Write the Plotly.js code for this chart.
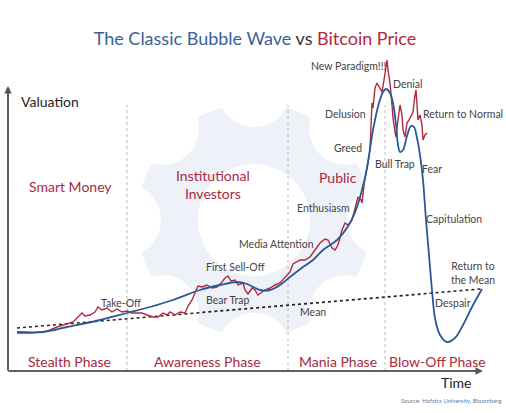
<!DOCTYPE html>
<html>
<head>
<meta charset="utf-8">
<script src="https://cdn.plot.ly/plotly-3.0.1.min.js"></script>
<style>html,body{margin:0;padding:0;background:#fff;}#chart{width:506px;height:413px;}</style>
</head>
<body>
<div id="chart"></div>
<script>
// ---- Data (time units / valuation units) ----
const bubbleTime = [9,35,59,92,119,142,165,192,212,229,239,252,262,272,282,295,305,315,329,342,349,354,359,365,371,375,378,382,385,388,390,392,395,399,403,406,409,412,415,418,421,424,427,432,439,447,455,464,474];
const bubbleVal  = [39,39,44,51,58,64,71,81,86,89,87,81,81,86,94,104,111,121,131,148,164,181,203,241,268,279,282,278,268,246,226,219,221,235,245,244,233,216,191,151,116,81,53,36,29,33,46,64,82];

const btcTime = [9,22,35,42,49,55,60,65,70,74,77,82,87,90,94,99,104,109,114,119,124,129,134,139,145,150,155,159,162,167,172,177,180,184,187,190,194,199,204,209,214,217,220,223,227,230,235,237,240,244,247,250,254,257,262,267,272,277,282,285,289,292,297,302,307,312,317,320,324,327,330,334,337,340,344,347,350,353,354,356,358,360,362,363,364,365,367,369,371,374,376,379,380,382,384,385,387,388,390,392,394,395,397,399,401,404,405,407,408,409,410,412,414,415,417,419];
const btcVal  = [38,38,39,41,44,46,48,49,54,58,55,56,59,64,61,63,59,62,59,60,58,58,58,56,54,54,58,56,59,56,59,58,65,71,78,85,84,86,83,84,89,93,95,90,91,86,88,81,77,83,81,76,79,81,83,86,88,94,99,107,109,111,111,114,121,128,132,131,123,121,126,141,148,146,151,164,174,171,168,186,196,209,221,243,268,263,283,288,284,279,291,311,301,288,266,253,239,234,251,266,256,241,234,248,251,256,259,276,281,266,251,256,246,231,236,238];

const meanTime = [9, 473];
const meanVal  = [43, 82];

const phaseBoundaries = [119, 280, 377];
const phaseNames = ["Stealth Phase", "Awareness Phase", "Mania Phase", "Blow-Off Phase"];
const actorNames = ["Smart Money", "Institutional<br>Investors", "Public"];
const stageNames = ["Take-Off","First Sell-Off","Bear Trap","Media Attention","Enthusiasm","Greed","Delusion","New Paradigm!!!","Denial","Bull Trap","Return to Normal","Fear","Capitulation","Despair","Return to<br>the Mean","Mean"];

// ---- Colours / fonts ----
const BLUE = "#2c5896", RED = "#b1293f", GRAY = "#444", PHASE = "#a9293f";
const FONT = "Lato, 'Open Sans', sans-serif";

// ---- Background gear (decoration) ----
function gearPath(cx, cy, R, n, rho, D, startDeg) {
  let pts = [];
  for (let a = 0; a < 360; a += 1) {
    const th = a * Math.PI / 180;
    let r = R;
    for (let k = 0; k < n; k++) {
      const ph = (startDeg + k * 360 / n) * Math.PI / 180;
      let d = th - ph; d = Math.atan2(Math.sin(d), Math.cos(d));
      const disc = rho * rho - D * D * Math.sin(d) * Math.sin(d);
      if (Math.cos(d) > 0 && disc >= 0) {
        const s = D * Math.cos(d) - Math.sqrt(disc);
        if (s < r) r = s;
      }
    }
    pts.push([cx + r * Math.cos(th), cy + r * Math.sin(th)]);
  }
  return "M" + pts.map(p => p[0].toFixed(2) + "," + p[1].toFixed(2)).join("L") + "Z";
}
const gearCx = 246, gearCy = 151, gearR = 117;
const shapes = [
  {type:"path", xref:"x", yref:"y", layer:"below", path: gearPath(gearCx, gearCy, gearR, 8, 36, gearR + 12, 90), fillcolor:"#eef1f8", line:{width:0}},
  {type:"circle", xref:"x", yref:"y", layer:"below", x0:gearCx-56, x1:gearCx+56, y0:gearCy-56, y1:gearCy+56, fillcolor:"#ffffff", line:{width:0}}
];
phaseBoundaries.forEach(b => shapes.push({type:"line", xref:"x", yref:"y", layer:"below", x0:b, x1:b, y0:0, y1:266, line:{color:"#b8b8b8", width:1, dash:"dot"}}));

// ---- Annotations ----
const ann = [];
function txt(t, x, y, color, size, extra) {
  ann.push(Object.assign({text:t, x:x, y:y, xref:"x", yref:"y", showarrow:false, xanchor:"center", yanchor:"middle", font:{family:FONT, size:size, color:color}}, extra||{}));
}
// axes with arrowheads
ann.push({x:0, y:285, ax:0, ay:0, xref:"x", yref:"y", axref:"x", ayref:"y", showarrow:true, arrowhead:2, arrowsize:1, arrowwidth:1.5, arrowcolor:"#555", text:""});
ann.push({x:475, y:0, ax:0, ay:0, xref:"x", yref:"y", axref:"x", ayref:"y", showarrow:true, arrowhead:2, arrowsize:1, arrowwidth:1.5, arrowcolor:"#555", text:""});

txt("Valuation", 42, 270, "#222", 14);
txt("Time", 448, -11, "#222", 14);

const phaseX = [61, 199, 330, 429];
phaseNames.forEach((p, i) => txt(p, phaseX[i], 10, PHASE, 14));
const actorPos = [[62,185],[205,187],[330,194]];
actorNames.forEach((a, i) => txt(a, actorPos[i][0], actorPos[i][1], PHASE, 14));

const stagePos = [[113,68],[227,104],[219,71],[268,127],[315,163],[340,223],[337,257],[341,305],[400,287],[387,207],[455,257],[424,202],[446,152],[445,68],[465,98],[305,59]];
stageNames.forEach((s, i) => txt(s, stagePos[i][0], stagePos[i][1], GRAY, 10.5));

txt('Source: <span style="color:#5b7fb0">Hofstra University, Bloomberg</span>', 496, -29, "#777", 6, {xanchor:"right"});

// ---- Traces ----
const traces = [
  {x: meanTime, y: meanVal, mode:"lines", line:{color:"#222", width:1.6, dash:"dot"}, hoverinfo:"skip"},
  {x: btcTime, y: btcVal, mode:"lines", line:{color:RED, width:1.4}, hoverinfo:"skip"},
  {x: bubbleTime, y: bubbleVal, mode:"lines", line:{color:BLUE, width:1.8, shape:"spline", smoothing:1}, hoverinfo:"skip"}
];

const layout = {
  width:506, height:413,
  margin:{l:0, r:0, t:0, b:0},
  paper_bgcolor:"#fff", plot_bgcolor:"rgba(0,0,0,0)",
  showlegend:false,
  title:{text:'<span style="color:#3a6295">The Classic Bubble Wave</span> vs <span style="color:#b3283f">Bitcoin Price</span>', x:0.504, y:0.906, xanchor:"center", yanchor:"middle", font:{family:FONT, size:18, color:"#333"}},
  xaxis:{range:[-8, 498], visible:false, fixedrange:true},
  yaxis:{range:[-42, 371], visible:false, fixedrange:true},
  shapes: shapes,
  annotations: ann
};
shapes.push({type:"line", xref:"x", yref:"y", x0:0, x1:0, y0:0, y1:280, line:{color:"#555", width:1.5}});
shapes.push({type:"line", xref:"x", yref:"y", x0:0, x1:470, y0:0, y1:0, line:{color:"#555", width:1.5}});

Plotly.newPlot("chart", traces, layout, {staticPlot:true, displayModeBar:false});
</script>
</body>
</html>
